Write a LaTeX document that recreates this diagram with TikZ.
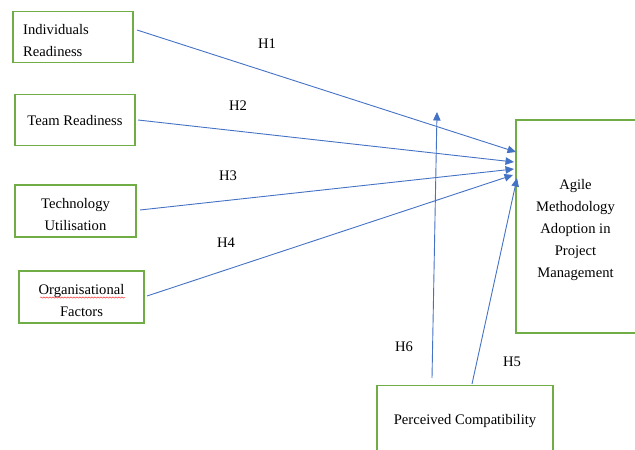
\documentclass[tikz,border=0pt]{standalone}
\usepackage{fontspec}
\setmainfont{Liberation Serif}
\usetikzlibrary{arrows.meta,decorations.pathmorphing}
\definecolor{boxgreen}{RGB}{112,173,71}
\definecolor{arrblue}{RGB}{68,114,196}
\begin{document}
\begin{tikzpicture}[x=1pt,y=-1pt,
  every node/.style={font=\fontsize{14.6}{22}\selectfont, text=black},
  varbox/.style={draw=boxgreen, line width=1.4pt, rectangle, inner sep=0pt},
  boxtext/.style={inner sep=0pt, align=center},
  hyp/.style={draw=arrblue, line width=0.9pt, -{Triangle[length=8.5pt,width=7.5pt]}},
  hlabel/.style={inner sep=0pt}]
\useasboundingbox (0,0) rectangle (635,450);
% boxes
\node[varbox, minimum width=120, minimum height=51] (ind) at (73,37) {};
\node[varbox, minimum width=120, minimum height=51] (team) at (75,120) {};
\node[varbox, minimum width=121, minimum height=52] (tech) at (75.5,211) {};
\node[varbox, minimum width=125, minimum height=52] (org) at (81.5,297) {};
\node[varbox, minimum width=122, minimum height=213] (agile) at (577,226.5) {};
\node[varbox, minimum width=176, minimum height=74, anchor=north] (pc) at (465,385) {};
% box texts
\node[boxtext, align=left, anchor=west] (indt) at (23,40.5) {Individuals\\Readiness};
\node[boxtext] (teamt) at (75,121) {Team Readiness};
\node[boxtext] (techt) at (75.5,214.5) {Technology\\Utilisation};
\node[boxtext] (orgt) at (81.5,300.5) {Organisational\\Factors};
\node[boxtext] (agilet) at (575.5,230) {Agile\\Methodology\\Adoption in\\Project\\Management};
\node[boxtext] (pct) at (465,421.5) {Perceived Compatibility};
% spell-check underline
\coordinate (u1) at (40,297.5);
\coordinate (u2) at (125,297.5);
\draw[red!80, line width=0.5pt, decorate, decoration={snake, amplitude=0.6pt, segment length=3pt}] (u1) -- (u2);
% connector ends
\coordinate (s1) at (137,30);
\coordinate (s2) at (138,120);
\coordinate (s3) at (140,210);
\coordinate (s4) at (147,296);
\coordinate (s5) at (472,384);
\coordinate (s6) at (432,378);
\coordinate (t1) at (516,152);
\coordinate (t2) at (514,162);
\coordinate (t3) at (514,169);
\coordinate (t4) at (513,175);
\coordinate (t5) at (517,178);
\coordinate (t6) at (437,112);
\draw[hyp] (s1) -- (t1);
\draw[hyp] (s2) -- (t2);
\draw[hyp] (s3) -- (t3);
\draw[hyp] (s4) -- (t4);
\draw[hyp] (s5) -- (t5);
\draw[hyp] (s6) -- (t6);
% labels
\node[hlabel] (h1) at (267,44) {H1};
\node[hlabel] (h2) at (238,106) {H2};
\node[hlabel] (h3) at (228,176) {H3};
\node[hlabel] (h4) at (226,243) {H4};
\node[hlabel] (h6) at (404,347) {H6};
\node[hlabel] (h5) at (512,362) {H5};
\end{tikzpicture}
\end{document}
